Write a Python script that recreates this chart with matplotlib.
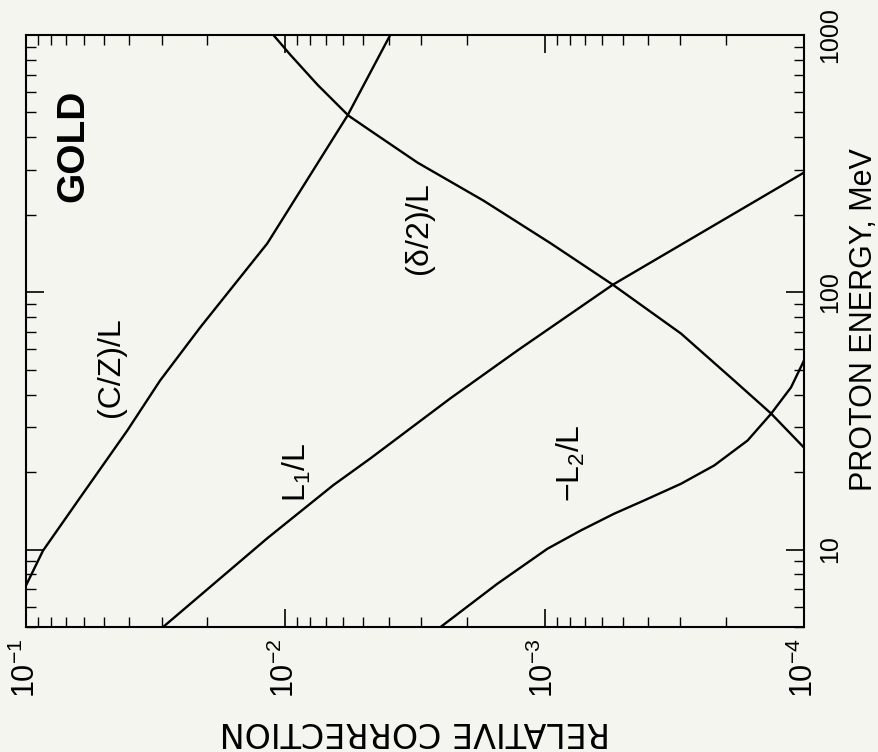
import numpy as np
import matplotlib.pyplot as plt
from matplotlib import ticker

plt.rcParams['font.family'] = ['Liberation Sans', 'DejaVu Sans']
plt.rcParams['mathtext.fontset'] = 'custom'
plt.rcParams['mathtext.rm'] = 'Liberation Sans'
plt.rcParams['mathtext.it'] = 'Liberation Sans:italic'
plt.rcParams['mathtext.default'] = 'regular'

cz_energy = [7.25, 9.9, 15.9, 29.0, 45.4, 73, 155, 486, 1000]
cz_corr = [0.1, 0.086, 0.0619, 0.0407, 0.0304, 0.0213, 0.01173, 0.00576, 0.00394]

delta_energy = [1000, 838, 641, 486, 425, 319, 227, 155, 107, 69.1, 45.4, 33.8, 24.9]
delta_corr = [0.01112, 0.00957, 0.00752, 0.00571, 0.0047, 0.00309, 0.00172, 0.000948,
              0.000546, 0.000298, 0.000186, 0.000134, 0.0001]

l1_energy = [5.0, 11.07, 17.8, 22.6, 38.7, 59.5, 107, 292]
l1_corr = [0.0296, 0.01173, 0.00653, 0.0047, 0.00231, 0.00127, 0.000546, 0.0001]

l2_energy = [5.0, 7.36, 10.07, 11.86, 13.78, 15.51, 18.02, 21.22, 26.54, 33.7,
             42.7, 54.3]
l2_corr = [0.00252, 0.001523, 0.000976, 0.000726, 0.00054, 0.000414, 0.000298,
           0.000222, 0.000165, 0.000134, 0.0001122, 0.0001]

corr_ticks = [1e-1, 1e-2, 1e-3, 1e-4]
energy_ticks = [10, 100, 1000]

bg = '#f5f5ef'

fig = plt.figure(figsize=(8.79, 7.52), dpi=100, facecolor=bg)
ax = fig.add_axes([26 / 879, 125 / 752, 778 / 879, 592 / 752], facecolor=bg)

for c, e in [(cz_corr, cz_energy), (delta_corr, delta_energy),
             (l1_corr, l1_energy), (l2_corr, l2_energy)]:
    ax.plot(c, e, color='k', lw=1.7)

ax.set_xscale('log')
ax.set_yscale('log')
ax.set_xlim(1e-1, 1e-4)
ax.set_ylim(5, 1000)

ax.set_xticks(corr_ticks)
ax.set_yticks(energy_ticks)
ax.yaxis.set_major_formatter(ticker.FuncFormatter(lambda v, p: f"{v:g}"))
for a in (ax.xaxis, ax.yaxis):
    a.set_minor_locator(ticker.LogLocator(base=10, subs=np.arange(2, 10)))
    a.set_minor_formatter(ticker.NullFormatter())

ax.tick_params(which='both', direction='in', top=True, right=True, bottom=True, left=True)
ax.tick_params(which='major', length=13, width=1.2)
ax.tick_params(which='minor', length=7, width=1.0)
ax.tick_params(axis='x', labelrotation=90, labelsize=22, pad=8)
ax.tick_params(axis='y', labelleft=False, labelright=True, labelrotation=90,
               labelsize=18, pad=10)
for lab in ax.yaxis.get_majorticklabels():
    lab.set_va('center')
for s in ax.spines.values():
    s.set_linewidth(1.5)

# beschriftungen der kurven
ax.text(0.0658, 371, 'GOLD', rotation=90, fontsize=28, fontweight='bold',
        ha='center', va='center')
ax.text(0.047, 51.4, '(C/Z)/L', rotation=90, fontsize=23, ha='center', va='center')
ax.text(0.00299, 174, r'($\delta$/2)/L', rotation=90, fontsize=23, ha='center', va='center')
ax.text(0.00899, 20, r'L$_1$/L', rotation=90, fontsize=23, ha='center', va='center')
ax.text(0.000794, 21.6, r'$-$L$_2$/L', rotation=90, fontsize=23, ha='center', va='center')

fig.text(415 / 879, 1 - 731 / 752, 'RELATIVE CORRECTION', rotation=180,
         ha='center', va='center', fontsize=24, family='DejaVu Sans')
fig.text(864 / 879, 1 - 320 / 752, 'PROTON ENERGY, MeV', rotation=90,
         ha='center', va='center', fontsize=22)

fig.savefig('out.png', dpi=100, facecolor=bg)
